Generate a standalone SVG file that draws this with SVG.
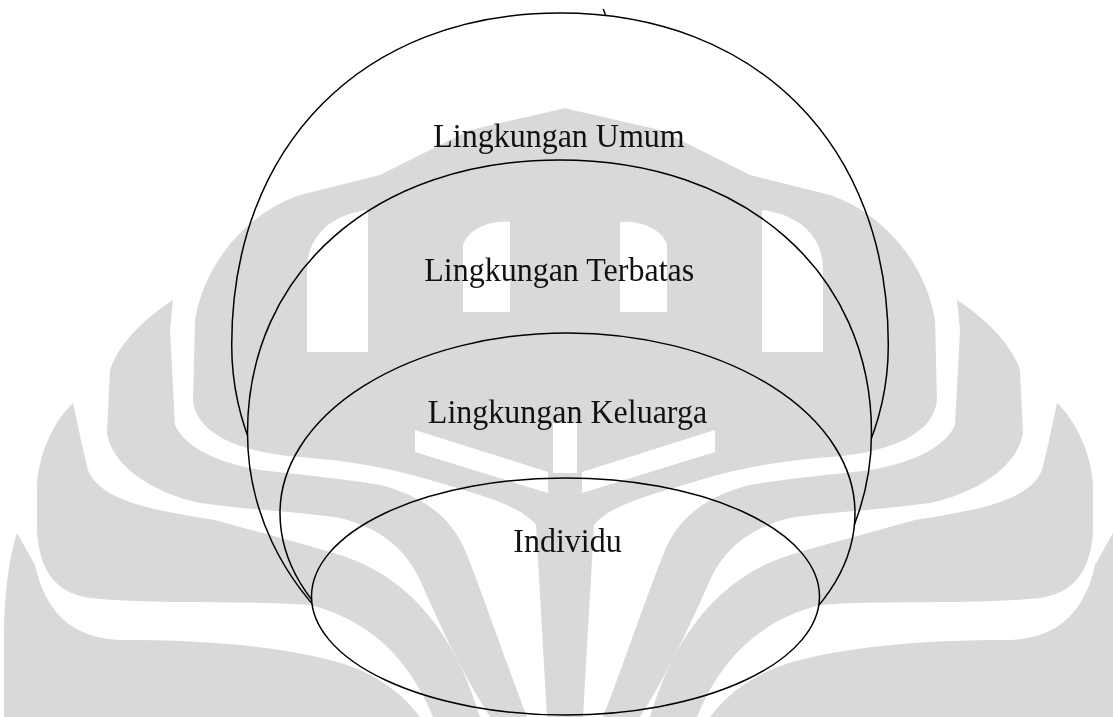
<svg xmlns="http://www.w3.org/2000/svg" width="1113" height="717" viewBox="0 0 1113 717">
<style>
.shape{fill:#ffffff;stroke:#000000;stroke-width:1.5}
.lbl{font-family:"Liberation Serif","Times New Roman",serif;font-size:32px;fill:#111111;text-anchor:middle}
.wm{fill:#d9d9d9}
#watermark{mix-blend-mode:multiply}
</style>
<defs>
<mask id="wmMask" maskUnits="userSpaceOnUse" x="0" y="0" width="1113" height="717">
<rect width="1113" height="717" fill="#ffffff"/>
<g id="gapsL" fill="#000000">
<path d="M307,352 L307,265 C310,232 335,214 368,210 L368,352 Z"/>
<path d="M463,312 L463,245 C468,228 492,220 510,222 L510,312 Z"/>
<path d="M553,423 L566,423 L566,473 L553,473 Z"/>
<path d="M415,430 L548,472 L548,493 L415,452 Z"/>
</g>
<use href="#gapsL" transform="matrix(-1 0 0 1 1130 0)"/>
</mask>
</defs>
<rect width="1113" height="717" fill="#ffffff"/>
<g id="node-umum">
<path class="shape" d="M231.7,345 C231.7,145.8 363,13 560,13 C757,13 888.3,145.8 888.3,345 C888.3,507.4 741.3,639 560,639 C378.7,639 231.7,507.4 231.7,345 Z"/>
<line x1="603.3" y1="9" x2="605.5" y2="15" stroke="#000" stroke-width="1.5"/>
</g>
<g id="node-terbatas">
<path class="shape" d="M247.5,433 C247.5,271.9 375.4,160 559.5,160 C743.6,160 871.5,271.9 871.5,433 C871.5,587.6 731.8,713 559.5,713 C387.2,713 247.5,587.6 247.5,433 Z"/>
</g>
<g id="node-keluarga">
<path class="shape" d="M280,513 A287.5,180 0 0 1 855,513 A287.5,190 0 0 1 280,513 Z"/>
</g>
<g id="node-individu">
<ellipse class="shape" cx="565.5" cy="596.5" rx="254" ry="118.5"/>
</g>
<g id="watermark" mask="url(#wmMask)">
<g id="wm-left">
<path class="wm" d="M566,108 L470,130 L420,155 L380,175 L300,195 C250,212 205,260 195,320 L193,400 C196,432 235,452 300,457 C350,461 390,468 430,480 C480,495 520,505 536,525 L547,717 L566,717 Z"/>
<path class="wm" d="M173,300 C150,315 120,340 110,370 L107,433 C112,465 150,492 200,503 C250,510 300,512 340,518 C380,528 405,548 420,580 C440,625 460,670 490,717 L527,717 C505,660 485,600 465,550 C450,515 420,495 380,485 C340,478 300,475 260,470 C215,462 185,447 175,425 L170,330 Z"/>
<path class="wm" d="M73,403 C55,420 40,450 37,483 L37,533 C40,570 55,593 90,598 C160,605 250,600 310,605 C370,620 410,660 433,717 L480,717 C460,650 420,580 340,555 C290,540 250,530 215,520 C150,510 100,500 88,470 L82,445 Z"/>
<path class="wm" d="M17,533 C8,560 4,600 4,640 L4,717 L420,717 C400,690 370,670 330,660 C270,645 200,640 120,640 C70,638 45,610 35,565 Z"/>
</g>
<use href="#wm-left" transform="matrix(-1 0 0 1 1130 0)"/>
</g>
<g id="labels">
<text class="lbl" transform="translate(559,146.5) scale(1,1.06)">Lingkungan Umum</text>
<text class="lbl" transform="translate(559.2,280.7) scale(1,1.06)">Lingkungan Terbatas</text>
<text class="lbl" transform="translate(567.5,423.3) scale(1,1.06)">Lingkungan Keluarga</text>
<text class="lbl" transform="translate(567.5,551.7) scale(1,1.06)">Individu</text>
</g>
<g id="connectors"></g>
</svg>
